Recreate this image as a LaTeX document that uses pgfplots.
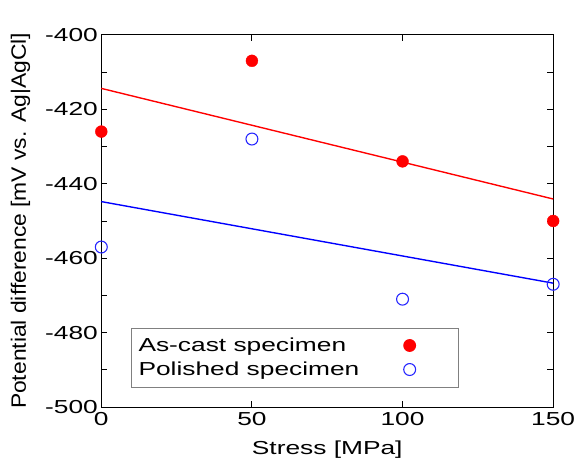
\documentclass[border=0pt]{standalone}
\usepackage{pgfplots}
\pgfplotsset{compat=1.18}
\usepackage{fontspec}
\setmainfont{Liberation Sans}
\newfontfamily\widefont{Liberation Sans}[FakeStretch=1.4]
\newfontfamily\ylfont{Liberation Sans}[FakeStretch=1.1]
\usetikzlibrary{calc}
\begin{document}
\begin{tikzpicture}[x=1bp,y=1bp]
\begin{axis}[
  scale only axis,
  width=455bp, height=375bp,
  xmin=0, xmax=150, ymin=-500, ymax=-400,
  xtick={0,50,100,150},
  ytick={-500,-480,-460,-440,-420,-400},
  minor y tick num=1,
  tick align=inside,
  major tick length=6bp, minor tick length=6bp,
  axis line style={line width=1.2pt},
  tick style={line width=0.9pt, black},
  clip=false,
  font=\widefont\fontsize{19}{23}\selectfont,
  /pgf/number format/assume math mode=true,
  yticklabel style={/pgf/number format/.cd, 1000 sep={}},
  xticklabel style={yshift=-2bp},
  xlabel={Stress [MPa]},
  ylabel={Potential difference [mV vs. Ag\textbar AgCl]},
  xlabel style={yshift=-8bp},
  ylabel style={font=\ylfont\fontsize{21}{25}\selectfont, yshift=8bp},
  legend style={at={(0.066,0.053)}, anchor=south west, draw=gray, line width=0.9pt,
    font=\widefont\fontsize{19}{23}\selectfont, row sep=5bp, inner xsep=5bp, inner ysep=8bp},
  legend cell align=left,
  legend plot pos=right,
  legend columns=1,
  legend image code/.code={\draw[mark repeat=2,mark phase=2,#1] plot coordinates {(0cm,0cm) (0.3cm,0cm) (0.6cm,0cm)}; \path (0cm,0cm) (0.3cm+44bp,0cm);},
]
\addplot[only marks, mark=*, mark size=6bp, color=red, fill=red] coordinates {(0,-426) (50,-407) (100,-434) (150,-450)};
\addlegendentry{\makebox[262bp][l]{As-cast specimen}}
\addplot[only marks, mark=o, mark size=6bp, color=blue!85!white, line width=1.1pt] coordinates {(0,-457) (50,-428) (100,-471) (150,-467)};
\addlegendentry{\makebox[262bp][l]{Polished specimen}}
\addplot[red, line width=1.4pt, forget plot] coordinates {(0,-414.4) (150,-444.1)};
\addplot[blue, line width=1.4pt, forget plot] coordinates {(0,-444.8) (150,-466.7)};
\end{axis}
\pgfresetboundingbox
\path[use as bounding box] ($(current axis.south west)+(-102bp,-56bp)$) rectangle ($(current axis.north east)+(24bp,35bp)$);
\end{tikzpicture}
\end{document}
